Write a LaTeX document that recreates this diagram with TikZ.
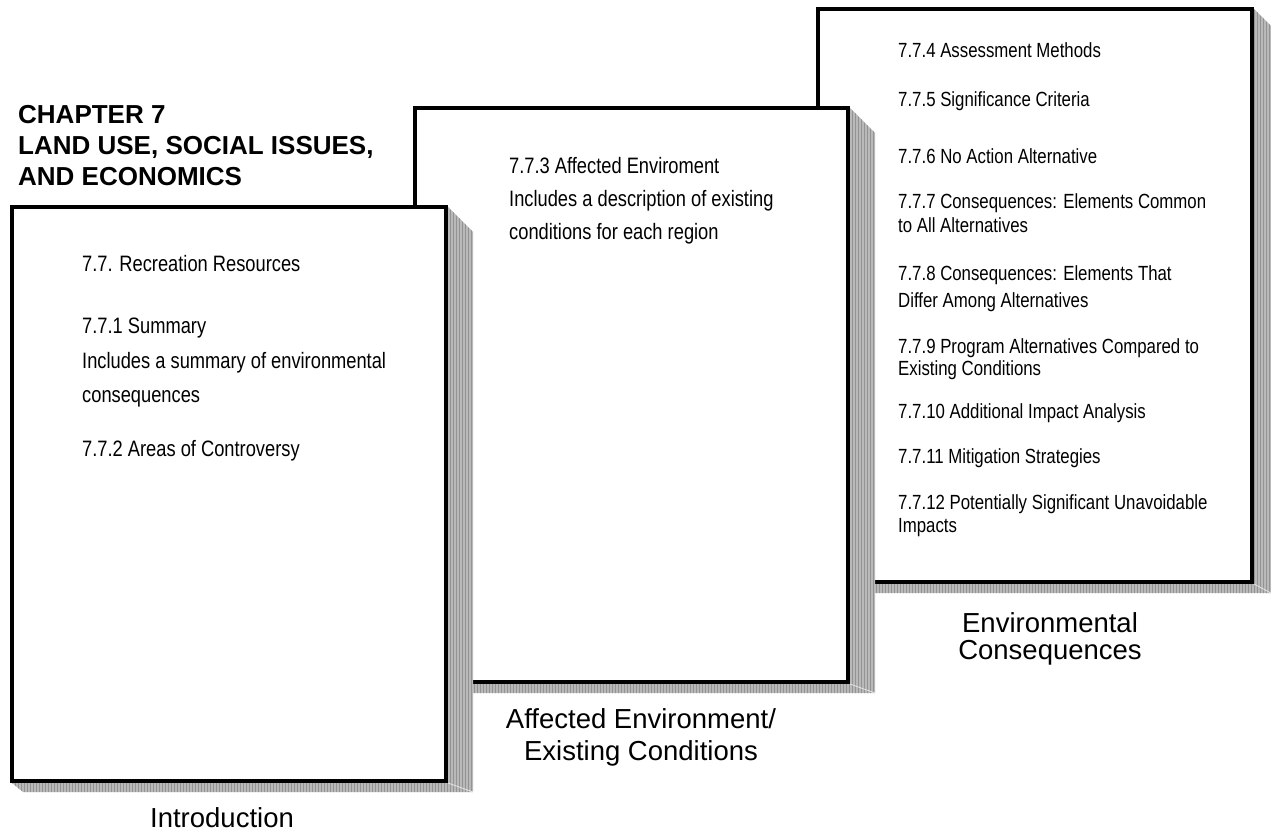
\documentclass[tikz,border=0pt]{standalone}
\usepackage{fontspec}
\setmainfont{Liberation Sans}
\newfontfamily\secfont[FakeStretch=0.82]{Liberation Sans}
\usetikzlibrary{patterns}

\tikzset{
  pagebox/.style={draw=black, line width=4.5pt, fill=white},
  pageshadow/.style={fill=gray!55, draw=none, postaction={pattern=vertical lines, pattern color=gray!85}},
  shadowedge/.style={draw=gray!20, line width=0.8pt},
  sectxt/.style={anchor=base west, inner sep=0pt, font=\secfont\fontsize{22.3}{26}\selectfont},
  sectxtb/.style={anchor=base west, inner sep=0pt, font=\secfont\fontsize{20.5}{24}\selectfont},
  titletxt/.style={anchor=base west, inner sep=0pt, font=\bfseries\fontsize{26}{30}\selectfont},
  labtxt/.style={anchor=base, inner sep=0pt, font=\fontsize{27.5}{32}\selectfont},
}

\begin{document}
\begin{tikzpicture}[x=1pt,y=-1pt]
\useasboundingbox (0,0) rectangle (1271,833);

% ---- page 3 (back): Environmental Consequences
\path[pageshadow] (1254,9) -- (1271,26) -- (1271,593) -- (829,593) -- (818,584) -- cycle;
\path[shadowedge] (1254,584) -- (1271,593);
\path[pagebox] (818,9) rectangle (1252,582);

% ---- page 2 (middle): Affected Environment
\path[pageshadow] (850,108) -- (875,133) -- (875,693) -- (426,693) -- (415,684) -- cycle;
\path[shadowedge] (850,684) -- (875,693);
\path[pagebox] (415,108) rectangle (848,682);

% ---- page 1 (front): Introduction
\path[pageshadow] (448,207) -- (473,232) -- (473,792) -- (23,792) -- (12,783) -- cycle;
\path[shadowedge] (448,783) -- (473,792);
\path[pagebox] (12,207) rectangle (446,781);

% ---- chapter title
\node[titletxt] (ch1) at (18,123) {CHAPTER 7};
\node[titletxt] (ch2) at (18,154) {LAND USE, SOCIAL ISSUES,};
\node[titletxt] (ch3) at (18,185) {AND ECONOMICS};

% ---- page 1 text
\node[sectxt] (a1) at (82,271) {7.7. Recreation Resources};
\node[sectxt] (a2) at (82,333) {7.7.1 Summary};
\node[sectxt] (a3) at (82,368) {Includes a summary of environmental};
\node[sectxt] (a4) at (82,402) {consequences};
\node[sectxt] (a5) at (82,456) {7.7.2 Areas of Controversy};

% ---- page 2 text
\node[sectxt] (b1) at (509,173) {7.7.3 Affected Enviroment};
\node[sectxt] (b2) at (509,206) {Includes a description of existing};
\node[sectxt] (b3) at (509,239) {conditions for each region};

% ---- page 3 text
\node[sectxtb] (c1) at (898,57) {7.7.4 Assessment Methods};
\node[sectxtb] (c2) at (898,106) {7.7.5 Significance Criteria};
\node[sectxtb] (c3) at (898,163) {7.7.6 No Action Alternative};
\node[sectxtb] (c4) at (898,208) {7.7.7 Consequences: Elements Common};
\node[sectxtb] (c5) at (898,232) {to All Alternatives};
\node[sectxtb] (c6) at (898,280) {7.7.8 Consequences: Elements That};
\node[sectxtb] (c7) at (898,307) {Differ Among Alternatives};
\node[sectxtb] (c8) at (898,353) {7.7.9 Program Alternatives Compared to};
\node[sectxtb] (c9) at (898,375) {Existing Conditions};
\node[sectxtb] (c10) at (898,418) {7.7.10 Additional Impact Analysis};
\node[sectxtb] (c11) at (898,463) {7.7.11 Mitigation Strategies};
\node[sectxtb] (c12) at (898,509) {7.7.12 Potentially Significant Unavoidable};
\node[sectxtb] (c13) at (898,532) {Impacts};

% ---- captions
\node[labtxt] (l1) at (222,827) {Introduction};
\node[labtxt] (l2) at (641,728) {Affected Environment/};
\node[labtxt] (l3) at (641,760) {Existing Conditions};
\node[labtxt] (l4) at (1050,632) {Environmental};
\node[labtxt] (l5) at (1050,659) {Consequences};
\end{tikzpicture}
\end{document}
